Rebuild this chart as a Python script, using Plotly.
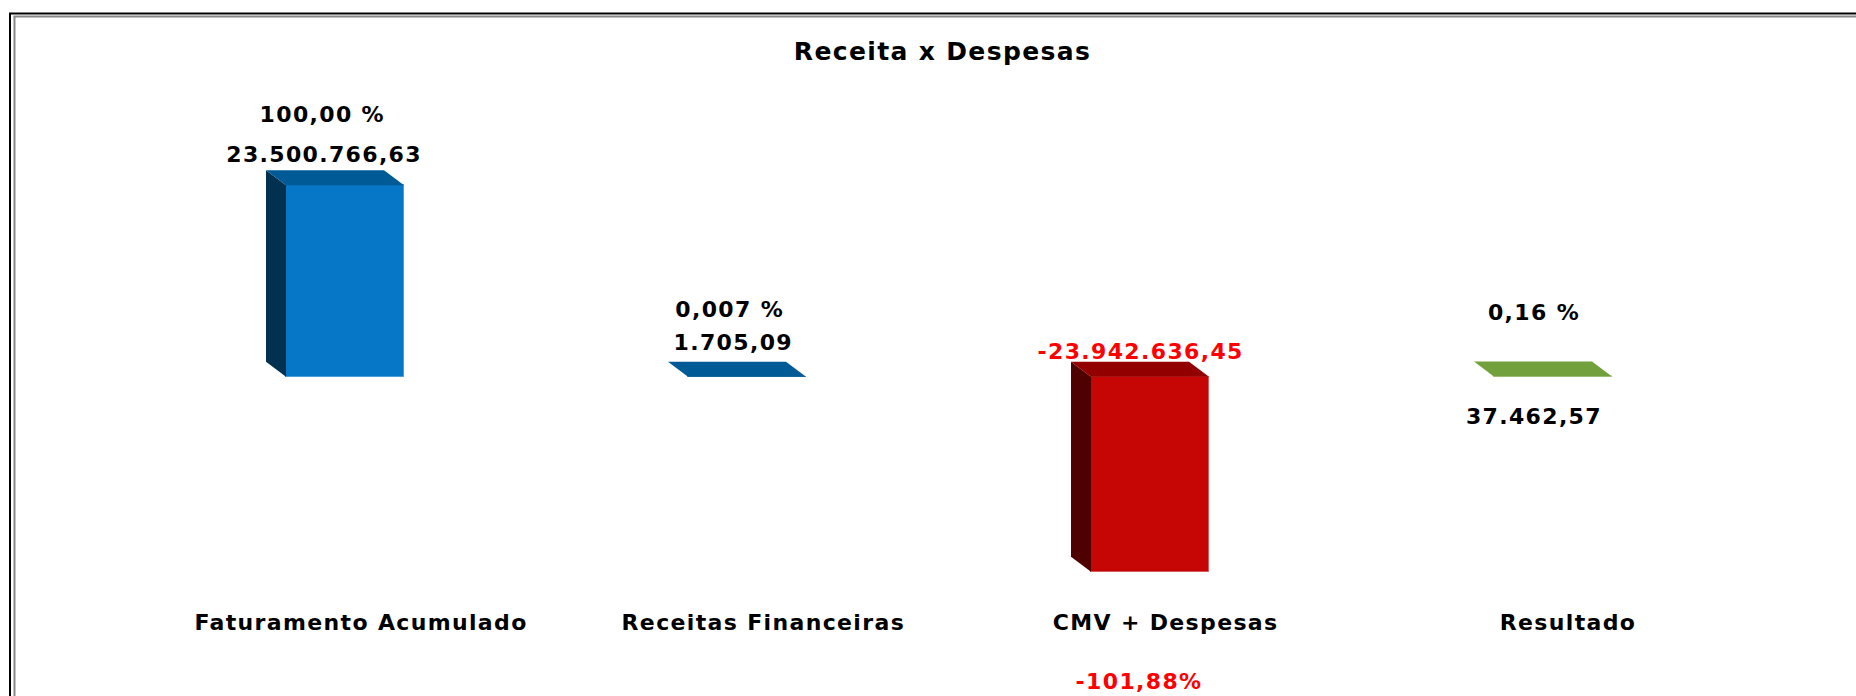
import plotly.graph_objects as go

# ---- data ----
categories = ["Faturamento Acumulado", "Receitas Financeiras", "CMV + Despesas", "Resultado"]
values = [23500766.63, 1705.09, -23942636.45, 37462.57]
value_labels = ["23.500.766,63", "1.705,09", "-23.942.636,45", "37.462,57"]
percent_labels = ["100,00 %", "0,007 %", "-101,88%", "0,16 %"]
title_text = "Receita x Despesas"

# ---- style / layout ----
W, H = 1856, 696
PLOT_BOTTOM = 607
ZERO_PX = 376.7
UNITS_PER_PX = 23500766.63 / 191.5
CAT_PX = 402.33
FIRST_CAT_PX = 361
bar_left_px = [286, 688, 1091, 1494]
BAR_WIDTH_PX = 118
DEPTH_X_PX = 20
DEPTH_Y_PX = 15
front_colors = ["#0676C6", "#005A96", "#C50605", "#71A03D"]
edge_colors = ["#4A9EDB", "#4A8FBF", "#D65A5A", "#C8D6A8"]
top_colors = ["#005A96", "#005A96", "#930000", "#71A03D"]
side_colors = ["#02304F", "#02304F", "#4F0000", "#71A03D"]
FONT = "DejaVu Sans"
BLACK, RED = "#000000", "#FF0000"

x_idx = list(range(len(categories)))
dx = lambda px: px / CAT_PX
dy = lambda px: px * UNITS_PER_PX
lefts = [i + dx(l - (FIRST_CAT_PX + i * CAT_PX)) for i, l in zip(x_idx, bar_left_px)]
rights = [l + dx(BAR_WIDTH_PX) for l in lefts]

fig = go.Figure()
for i, v in enumerate(values):
    top, bottom = max(v, 0), min(v, 0)
    l, r, ox, oy = lefts[i], rights[i], dx(DEPTH_X_PX), dy(DEPTH_Y_PX)
    fig.add_trace(go.Scatter(
        x=[l, l - ox, l - ox, l, l], y=[top, top + oy, bottom + oy, bottom, top],
        mode="lines", line=dict(width=0), fill="toself", fillcolor=side_colors[i],
        hoverinfo="skip", showlegend=False))
    fig.add_trace(go.Scatter(
        x=[l, r, r - ox, l - ox, l], y=[top, top, top + oy, top + oy, top],
        mode="lines", line=dict(width=0), fill="toself", fillcolor=top_colors[i],
        hoverinfo="skip", showlegend=False))

fig.add_trace(go.Bar(
    x=x_idx, y=values,
    offset=[l - i for i, l in zip(x_idx, lefts)],
    width=[dx(BAR_WIDTH_PX)] * len(values),
    marker=dict(color=front_colors, line=dict(color=edge_colors, width=1)),
    hoverinfo="skip", showlegend=False))

def px_x(p): return p / W
def px_y(p): return (PLOT_BOTTOM - p) / PLOT_BOTTOM

def note(text, x, y, color=BLACK, size=22):
    fig.add_annotation(text=f"<b>{text}</b>", xref="paper", yref="paper",
                       x=px_x(x), y=px_y(y), showarrow=False, xanchor="center",
                       yanchor="middle", font=dict(family=FONT, size=size, color=color))

note(title_text, 942, 51, size=25)
note(percent_labels[0], 322, 115)
note(value_labels[0], 324, 155)
note(percent_labels[1], 729, 309)
note(value_labels[1], 733, 342)
note(value_labels[2], 1140, 351, RED)
note(percent_labels[3], 1534, 312)
note(value_labels[3], 1534, 416)
note(percent_labels[2], 1139, 682, RED)

def frame(x0, y0, x1, y1, color, width):
    fig.add_shape(type="line", xref="paper", yref="paper",
                  x0=px_x(x0), y0=px_y(y0), x1=px_x(x1), y1=px_y(y1),
                  line=dict(color=color, width=width))

frame(10, 13, 10, H, "#000000", 2)
frame(9, 13.5, W, 13.5, "#000000", 2)
frame(14.5, 16.5, 14.5, H, "#888888", 2)
frame(13.5, 16.5, W, 16.5, "#888888", 2)

fig.update_layout(
    width=W, height=H, autosize=False, bargap=0,
    margin=dict(l=0, r=0, t=0, b=H - PLOT_BOTTOM, pad=0),
    paper_bgcolor="#FFFFFF", plot_bgcolor="#FFFFFF",
    xaxis=dict(range=[-FIRST_CAT_PX / CAT_PX, (W - FIRST_CAT_PX) / CAT_PX],
               tickmode="array", tickvals=x_idx,
               ticktext=[f"<b>{c}</b>" for c in categories],
               tickangle=0, ticks="", showgrid=False, zeroline=False, showline=False,
               tickfont=dict(family=FONT, size=22, color=BLACK)),
    yaxis=dict(range=[-(PLOT_BOTTOM - ZERO_PX) * UNITS_PER_PX, ZERO_PX * UNITS_PER_PX],
               visible=False, showgrid=False, zeroline=False),
)

post = """
document.body.style.margin='0';
document.body.style.overflow='hidden';
var s=document.createElement('style');
s.textContent='.annotation-text,.xtick text{letter-spacing:1.35px}';
document.head.appendChild(s);
"""
fig.write_html("out.html", post_script=post, config={"displayModeBar": False})
